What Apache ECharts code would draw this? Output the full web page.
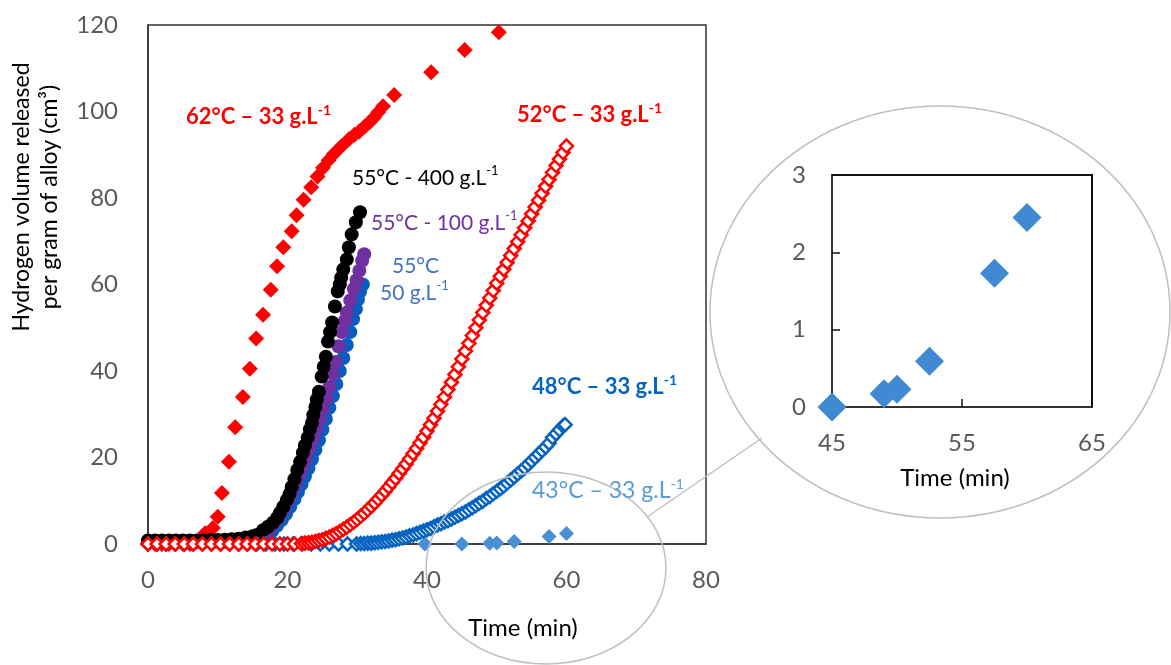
<!DOCTYPE html>
<html><head><meta charset="utf-8">
<script src="https://cdn.jsdelivr.net/npm/echarts@6/dist/echarts.min.js"></script>
<style>html,body{margin:0;padding:0;background:#fff}#c{width:1171px;height:665px}</style>
</head><body><div id="c"></div>
<script>
// ---- data ----
const t62 = [0,1,2,3,4,5,6,7,8.2,9.3,10.0,10.6,11.6,12.5,13.6,14.6,15.5,16.5,17.6,18.5,19.4,20.6,21.3,22.3,23.4,24.3,25.1,25.9,26.6,27.7,28.8,29.6,30.3,31.1,31.8,32.4,33.0,33.7,35.3,40.6,45.4,50.3];
const v62 = [0,0,0,0,0,0,0,0.5,2.5,3.7,6.3,11.8,19,27,34,40.5,47.5,53,58.8,64.2,68.6,72.3,76,79.6,82.5,85,87,88.7,90.1,91.9,93.6,94.6,95.4,96.6,97.6,98.6,99.8,101.2,103.8,109.1,114.2,118.3];

const t400 = [0,1,2,3,4,5,6,7,8,9,10,11,12,13,14,15,15.6,16.5,17.2,17.9,18.5,18.9,19.4,19.9,20.3,20.6,21.0,21.4,21.8,22.2,22.5,22.9,23.2,23.5,23.7,24.0,24.2,24.5,24.9,25.2,25.5,25.8,26.1,26.4,26.8,27.2,27.5,27.7,28.0,28.5,28.8,29.2,29.8,30.4];
const v400 = [0.8,0.8,0.8,0.8,0.8,0.8,0.8,0.8,0.8,0.9,0.9,1.0,1.1,1.2,1.5,1.8,2.1,3.2,4.0,4.9,6.0,7.2,8.6,10.2,11.6,13.2,15.0,17.1,19.0,21.1,22.8,24.6,26.5,28.0,29.8,31.7,33.4,35.2,38.7,41.0,43.3,46.8,49.0,51.2,54.9,58.4,60.0,61.6,63.5,65.8,68.6,71.6,74.4,76.7];

const t100 = [0,1,2,3,4,5,6,7,8,9,10,11,12,13,14,15,15.8,16.6,17.4,18.2,18.9,19.5,20.1,20.6,21.1,21.6,22.1,22.6,23.1,23.6,24.1,24.6,25.1,25.6,26.0,26.5,26.9,27.3,27.8,28.2,28.5,29.0,29.5,29.9,30.3,30.7,31.0];
const v100 = [0.6,0.6,0.6,0.6,0.6,0.6,0.6,0.6,0.6,0.6,0.6,0.6,0.7,0.8,1.0,1.2,1.5,2.3,3.4,4.9,6.5,8.2,10.0,11.8,13.7,15.6,17.6,19.7,21.9,24.1,26.4,28.8,31.3,33.9,36.3,39.3,42.1,45.7,49.0,51.5,53.5,56.3,59.0,61.0,63.2,65.5,67.0];

const t50 = [0,1,2,3,4,5,6,7,8,9,10,11,12,13,14,15,16,17,17.8,18.5,19.2,19.8,20.4,21.0,21.5,22.0,22.5,23.0,23.5,24.0,24.5,25.0,25.5,26.0,26.5,27.0,27.5,28.0,28.5,29.0,29.4,29.8,30.1,30.4,30.8];
const v50 = [0.5,0.5,0.5,0.5,0.5,0.5,0.5,0.5,0.5,0.5,0.5,0.5,0.6,0.7,0.8,1.0,1.2,2.0,3.0,4.2,5.6,7.0,8.6,10.4,12.0,13.8,15.6,17.5,19.6,21.8,24.0,26.4,28.9,31.5,34.2,37.0,40.0,43.0,46.0,49.0,52.0,54.3,56.5,58.3,60.0];

const t52 = [0,1.3,2.6,3.9,5.2,6.5,7.8,9.1,10.4,11.7,13.0,14.2,15.4,16.6,17.8,18.9,20.0,21.0,
  22.0,22.5,23.0,23.5,24.0,24.5,25.0,25.5,26.0,26.5,27.0,27.5,28.0,28.5,29.0,29.5,30.0,30.5,31.0,31.5,
  32.0,32.5,33.0,33.5,34.0,34.5,35.0,35.5,36.0,36.5,37.0,37.5,38.0,38.5,39.0,39.5,40.0,40.5,41.0,41.5,
  42.0,42.5,43.0,43.5,44.0,44.5,45.0,45.5,46.0,46.5,47.0,47.5,48.0,48.5,49.0,49.5,50.0,50.5,51.0,51.5,
  52.0,52.5,53.0,53.5,54.0,54.5,55.0,55.5,56.0,56.5,57.0,57.5,58.0,58.5,59.0,59.5,60.0];
const v52 = [0,0,0,0,0,0,0,0,0,0,0,0,0,0,0,0,0,0,
  0.1,0.2,0.3,0.4,0.6,0.8,1.0,1.3,1.6,2.0,2.4,2.9,3.4,3.9,4.5,5.1,5.7,6.4,7.1,7.9,
  8.7,9.5,10.4,11.3,12.2,13.2,14.2,15.2,16.3,17.4,18.5,19.7,20.9,22.1,23.4,24.7,26.1,27.6,29.1,30.7,
  32.3,34.0,35.7,37.4,39.2,41.0,42.8,44.6,46.4,48.2,50.0,51.8,53.5,55.2,56.9,58.6,60.3,61.9,63.5,65.1,
  66.7,68.3,69.9,71.5,73.1,74.7,76.3,77.9,79.5,81.1,82.7,84.3,85.9,87.5,89.0,90.5,92.0];

const t48 = [0,1.3,2.6,3.9,5.2,6.5,7.8,9.1,10.4,11.7,13.0,14.3,15.6,16.9,18.2,19.5,20.8,22.1,23.4,24.7,26.0,27.3,28.6,29.9,
  30.5,31,31.5,32,32.5,33,33.5,34,34.5,35,35.5,36,36.5,37,37.5,38,38.5,39,39.5,40,40.5,41,41.5,42,42.5,43,43.5,44,44.5,45,
  45.5,46,46.5,47,47.5,48,48.5,49,49.5,50,50.5,51,51.5,52,52.5,53,53.5,54,54.5,55,55.5,56,56.5,57,57.5,58,58.5,59,59.5,59.8];
const v48 = [0,0,0,0,0,0,0,0,0,0,0,0,0,0,0,0,0,0,0,0,0,0,0,0,
  0.1,0.1,0.2,0.2,0.3,0.4,0.5,0.6,0.7,0.9,1.0,1.2,1.4,1.6,1.9,2.1,2.4,2.7,3.0,3.3,3.6,4.0,4.4,4.7,5.1,5.4,5.8,6.2,6.6,7.0,
  7.4,7.9,8.4,8.9,9.4,9.9,10.5,11.0,11.6,12.2,12.8,13.4,14.1,14.8,15.5,16.2,16.9,17.6,18.4,19.2,20.0,20.8,21.6,22.4,23.3,24.6,25.5,26.4,27.3,27.6];

const t43 = [39.7,45.0,49.0,50.0,52.5,57.5,60.0];
const v43 = [0,0,0.17,0.23,0.59,1.73,2.45];

const mainXTicks = {min:0, max:80, interval:20};
const mainYTicks = {min:0, max:120, interval:20};
const insetXTicks = {min:45, max:65, interval:10};
const insetYTicks = {min:0, max:3, interval:1};

// ---- helpers ----
function pairs(t, v){ const n=Math.min(t.length,v.length); const o=[]; for(let i=0;i<n;i++) o.push([t[i],v[i]]); return o; }
const FONT = 'Lato, "Open Sans", sans-serif';
const GREY = '#595959';

function axisCommon(lineW){
  return {
    type:'value',
    axisLine:{show:true, lineStyle:{color:'#333', width:lineW}},
    splitLine:{show:false},
  };
}

function label(x, y, main, sup, color, size, weight){
  return {
    type:'text', x:x, y:y, z:100,
    style:{
      text: sup ? '{a|'+main+'}{s|'+sup+'}' : '{a|'+main+'}',
      align:'left', verticalAlign:'middle',
      rich:{
        a:{fontSize:size, fontFamily:FONT, fontWeight:weight||'normal', fill:color, lineHeight:28},
        s:{fontSize:Math.round(size*0.62), fontFamily:FONT, fontWeight:weight||'normal', fill:color, verticalAlign:'top', lineHeight:15}
      }
    }
  };
}

const chart = echarts.init(document.getElementById('c'), null, {renderer:'canvas'});
const sc = (extra) => Object.assign({type:'scatter', xAxisIndex:0, yAxisIndex:0, silent:true, emphasis:{disabled:true}}, extra);
const option = {
  animation:false,
  backgroundColor:'#fff',
  grid:[
    {left:148, top:25, width:558, height:519, show:true, borderColor:'#333', borderWidth:1.5, backgroundColor:'transparent'},
    {left:832, top:175, width:260, height:232, show:true, borderColor:'#111', borderWidth:2, backgroundColor:'transparent'}
  ],
  xAxis:[
    Object.assign(axisCommon(1.5), mainXTicks, {gridIndex:0, axisTick:{show:false}, axisLabel:{color:GREY, fontSize:24, fontFamily:FONT, margin:24}}),
    Object.assign(axisCommon(2), insetXTicks, {gridIndex:1, axisTick:{show:true, inside:true, length:8, lineStyle:{color:'#111', width:1.5}}, axisLabel:{color:GREY, fontSize:24, fontFamily:FONT, margin:24}})
  ],
  yAxis:[
    Object.assign(axisCommon(1.5), mainYTicks, {gridIndex:0, axisTick:{show:false}, axisLabel:{color:GREY, fontSize:24, fontFamily:FONT, margin:30}}),
    Object.assign(axisCommon(2), insetYTicks, {gridIndex:1, axisTick:{show:true, inside:true, length:8, lineStyle:{color:'#111', width:1.5}}, axisLabel:{color:GREY, fontSize:24, fontFamily:FONT, margin:26}})
  ],
  series:[
    sc({name:'43°C – 33 g/L', symbol:'diamond', symbolSize:15, itemStyle:{color:'#4a8fd4', opacity:1}, data:pairs(t43,v43)}),
    sc({name:'62°C – 33 g/L', symbol:'diamond', symbolSize:16, itemStyle:{color:'#ff0000', opacity:1}, data:pairs(t62,v62)}),
    sc({name:'55°C – 50 g/L', symbol:'circle', symbolSize:14, itemStyle:{color:'#0a5cc0', opacity:1}, data:pairs(t50,v50)}),
    sc({name:'55°C – 100 g/L', symbol:'circle', symbolSize:14, itemStyle:{color:'#7030a0', opacity:1}, data:pairs(t100,v100)}),
    sc({name:'55°C – 400 g/L', symbol:'circle', symbolSize:14, itemStyle:{color:'#000000', opacity:1}, data:pairs(t400,v400)}),
    sc({name:'48°C – 33 g/L', symbol:'diamond', symbolSize:13, itemStyle:{color:'#ffffff', borderColor:'#0563c1', borderWidth:2.5, opacity:1}, data:pairs(t48,v48)}),
    sc({name:'52°C – 33 g/L', symbol:'diamond', symbolSize:13, itemStyle:{color:'#ffffff', borderColor:'#ff0000', borderWidth:2.5, opacity:1}, data:pairs(t52,v52)}),
    sc({name:'43°C inset', xAxisIndex:1, yAxisIndex:1, symbol:'diamond', symbolSize:29, clip:false,
      itemStyle:{color:'#3f8ad2', opacity:1}, data:pairs(t43,v43).filter(p=>p[0]>=insetXTicks.min)})
  ],
  graphic:[
    {type:'ellipse', shape:{cx:546, cy:568, rx:120, ry:96}, style:{fill:'none', stroke:'#bfbfbf', lineWidth:1.5}, z:50},
    {type:'ellipse', shape:{cx:940, cy:312, rx:230, ry:206}, style:{fill:'none', stroke:'#bfbfbf', lineWidth:1.5}, z:50},
    {type:'line', shape:{x1:647, y1:517, x2:762, y2:438}, style:{stroke:'#bfbfbf', lineWidth:1.5}, z:50},
    label(186, 117, '62°C – 33 g.L', '-1', '#ff0000', 22, 'bold'),
    label(517, 115, '52°C – 33 g.L', '-1', '#ff0000', 22, 'bold'),
    label(352, 178, '55°C - 400 g.L', '-1', '#000000', 21),
    label(371, 223, '55°C - 100 g.L', '-1', '#7030a0', 21),
    label(392, 266, '55°C', '', '#4472c4', 21),
    label(380, 293, '50 g.L', '-1', '#4472c4', 21),
    label(532, 387, '48°C – 33 g.L', '-1', '#0563c1', 22, 'bold'),
    label(532, 491, '43°C – 33 g.L', '-1', '#5b9bd5', 23),
    {type:'text', x:523, y:628, z:100, style:{text:'Time (min)', font:'24px '+FONT, fill:'#000', align:'center', verticalAlign:'middle'}},
    {type:'text', x:955, y:478, z:100, style:{text:'Time (min)', font:'24px '+FONT, fill:'#000', align:'center', verticalAlign:'middle'}},
    {type:'text', x:36, y:197, rotation:Math.PI/2, z:100, style:{text:'Hydrogen volume released\nper gram of alloy (cm³)', font:'23px '+FONT, lineHeight:28, fill:'#000', align:'center', verticalAlign:'middle'}}
  ]
};
chart.setOption(option);
</script>
</body></html>
